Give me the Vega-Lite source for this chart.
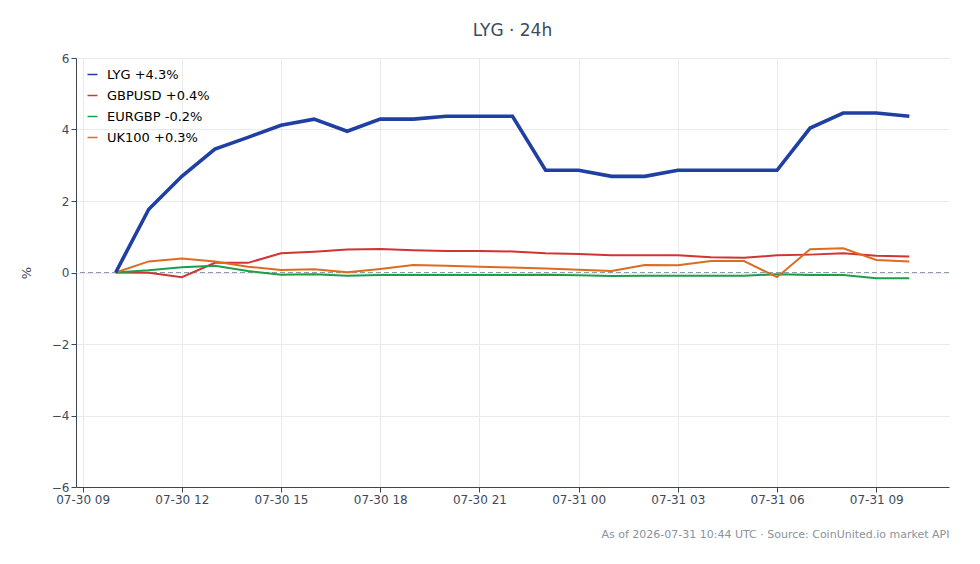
{
  "width": 980,
  "height": 564,
  "autosize": {"type": "fit", "contains": "padding"},
  "padding": {"left": 20, "top": 22, "right": 30, "bottom": 25},
  "config": {"font": "DejaVu Sans", "view": {"stroke": null}},
  "title": {"text": "LYG · 24h", "fontSize": 17, "fontWeight": "normal", "color": "#3d4a5c", "offset": 12},
  "data": {"values": [
      {"t": "2026-07-30T10:00:00Z", "s": "LYG +4.3%", "v": 0},
      {"t": "2026-07-30T11:00:00Z", "s": "LYG +4.3%", "v": 1.77},
      {"t": "2026-07-30T12:00:00Z", "s": "LYG +4.3%", "v": 2.69},
      {"t": "2026-07-30T13:00:00Z", "s": "LYG +4.3%", "v": 3.45},
      {"t": "2026-07-30T14:00:00Z", "s": "LYG +4.3%", "v": 3.78},
      {"t": "2026-07-30T15:00:00Z", "s": "LYG +4.3%", "v": 4.12},
      {"t": "2026-07-30T16:00:00Z", "s": "LYG +4.3%", "v": 4.29},
      {"t": "2026-07-30T17:00:00Z", "s": "LYG +4.3%", "v": 3.95},
      {"t": "2026-07-30T18:00:00Z", "s": "LYG +4.3%", "v": 4.29},
      {"t": "2026-07-30T19:00:00Z", "s": "LYG +4.3%", "v": 4.29},
      {"t": "2026-07-30T20:00:00Z", "s": "LYG +4.3%", "v": 4.37},
      {"t": "2026-07-30T21:00:00Z", "s": "LYG +4.3%", "v": 4.37},
      {"t": "2026-07-30T22:00:00Z", "s": "LYG +4.3%", "v": 4.37},
      {"t": "2026-07-30T23:00:00Z", "s": "LYG +4.3%", "v": 2.86},
      {"t": "2026-07-31T00:00:00Z", "s": "LYG +4.3%", "v": 2.86},
      {"t": "2026-07-31T01:00:00Z", "s": "LYG +4.3%", "v": 2.69},
      {"t": "2026-07-31T02:00:00Z", "s": "LYG +4.3%", "v": 2.69},
      {"t": "2026-07-31T03:00:00Z", "s": "LYG +4.3%", "v": 2.86},
      {"t": "2026-07-31T04:00:00Z", "s": "LYG +4.3%", "v": 2.86},
      {"t": "2026-07-31T05:00:00Z", "s": "LYG +4.3%", "v": 2.86},
      {"t": "2026-07-31T06:00:00Z", "s": "LYG +4.3%", "v": 2.86},
      {"t": "2026-07-31T07:00:00Z", "s": "LYG +4.3%", "v": 4.04},
      {"t": "2026-07-31T08:00:00Z", "s": "LYG +4.3%", "v": 4.46},
      {"t": "2026-07-31T09:00:00Z", "s": "LYG +4.3%", "v": 4.46},
      {"t": "2026-07-31T10:00:00Z", "s": "LYG +4.3%", "v": 4.37},
      {"t": "2026-07-30T10:00:00Z", "s": "GBPUSD +0.4%", "v": 0},
      {"t": "2026-07-30T11:00:00Z", "s": "GBPUSD +0.4%", "v": -0.01},
      {"t": "2026-07-30T12:00:00Z", "s": "GBPUSD +0.4%", "v": -0.13},
      {"t": "2026-07-30T13:00:00Z", "s": "GBPUSD +0.4%", "v": 0.27},
      {"t": "2026-07-30T14:00:00Z", "s": "GBPUSD +0.4%", "v": 0.27},
      {"t": "2026-07-30T15:00:00Z", "s": "GBPUSD +0.4%", "v": 0.54},
      {"t": "2026-07-30T16:00:00Z", "s": "GBPUSD +0.4%", "v": 0.58},
      {"t": "2026-07-30T17:00:00Z", "s": "GBPUSD +0.4%", "v": 0.64},
      {"t": "2026-07-30T18:00:00Z", "s": "GBPUSD +0.4%", "v": 0.66},
      {"t": "2026-07-30T19:00:00Z", "s": "GBPUSD +0.4%", "v": 0.62},
      {"t": "2026-07-30T20:00:00Z", "s": "GBPUSD +0.4%", "v": 0.6},
      {"t": "2026-07-30T21:00:00Z", "s": "GBPUSD +0.4%", "v": 0.6},
      {"t": "2026-07-30T22:00:00Z", "s": "GBPUSD +0.4%", "v": 0.59},
      {"t": "2026-07-30T23:00:00Z", "s": "GBPUSD +0.4%", "v": 0.54},
      {"t": "2026-07-31T00:00:00Z", "s": "GBPUSD +0.4%", "v": 0.52},
      {"t": "2026-07-31T01:00:00Z", "s": "GBPUSD +0.4%", "v": 0.48},
      {"t": "2026-07-31T02:00:00Z", "s": "GBPUSD +0.4%", "v": 0.48},
      {"t": "2026-07-31T03:00:00Z", "s": "GBPUSD +0.4%", "v": 0.48},
      {"t": "2026-07-31T04:00:00Z", "s": "GBPUSD +0.4%", "v": 0.43},
      {"t": "2026-07-31T05:00:00Z", "s": "GBPUSD +0.4%", "v": 0.41},
      {"t": "2026-07-31T06:00:00Z", "s": "GBPUSD +0.4%", "v": 0.48},
      {"t": "2026-07-31T07:00:00Z", "s": "GBPUSD +0.4%", "v": 0.5},
      {"t": "2026-07-31T08:00:00Z", "s": "GBPUSD +0.4%", "v": 0.54},
      {"t": "2026-07-31T09:00:00Z", "s": "GBPUSD +0.4%", "v": 0.47},
      {"t": "2026-07-31T10:00:00Z", "s": "GBPUSD +0.4%", "v": 0.45},
      {"t": "2026-07-30T10:00:00Z", "s": "EURGBP -0.2%", "v": 0},
      {"t": "2026-07-30T11:00:00Z", "s": "EURGBP -0.2%", "v": 0.06},
      {"t": "2026-07-30T12:00:00Z", "s": "EURGBP -0.2%", "v": 0.15},
      {"t": "2026-07-30T13:00:00Z", "s": "EURGBP -0.2%", "v": 0.19},
      {"t": "2026-07-30T14:00:00Z", "s": "EURGBP -0.2%", "v": 0.04},
      {"t": "2026-07-30T15:00:00Z", "s": "EURGBP -0.2%", "v": -0.06},
      {"t": "2026-07-30T16:00:00Z", "s": "EURGBP -0.2%", "v": -0.05},
      {"t": "2026-07-30T17:00:00Z", "s": "EURGBP -0.2%", "v": -0.09},
      {"t": "2026-07-30T18:00:00Z", "s": "EURGBP -0.2%", "v": -0.07},
      {"t": "2026-07-30T19:00:00Z", "s": "EURGBP -0.2%", "v": -0.07},
      {"t": "2026-07-30T20:00:00Z", "s": "EURGBP -0.2%", "v": -0.07},
      {"t": "2026-07-30T21:00:00Z", "s": "EURGBP -0.2%", "v": -0.07},
      {"t": "2026-07-30T22:00:00Z", "s": "EURGBP -0.2%", "v": -0.07},
      {"t": "2026-07-30T23:00:00Z", "s": "EURGBP -0.2%", "v": -0.06},
      {"t": "2026-07-31T00:00:00Z", "s": "EURGBP -0.2%", "v": -0.08},
      {"t": "2026-07-31T01:00:00Z", "s": "EURGBP -0.2%", "v": -0.1},
      {"t": "2026-07-31T02:00:00Z", "s": "EURGBP -0.2%", "v": -0.09},
      {"t": "2026-07-31T03:00:00Z", "s": "EURGBP -0.2%", "v": -0.09},
      {"t": "2026-07-31T04:00:00Z", "s": "EURGBP -0.2%", "v": -0.09},
      {"t": "2026-07-31T05:00:00Z", "s": "EURGBP -0.2%", "v": -0.09},
      {"t": "2026-07-31T06:00:00Z", "s": "EURGBP -0.2%", "v": -0.05},
      {"t": "2026-07-31T07:00:00Z", "s": "EURGBP -0.2%", "v": -0.07},
      {"t": "2026-07-31T08:00:00Z", "s": "EURGBP -0.2%", "v": -0.07},
      {"t": "2026-07-31T09:00:00Z", "s": "EURGBP -0.2%", "v": -0.16},
      {"t": "2026-07-31T10:00:00Z", "s": "EURGBP -0.2%", "v": -0.16},
      {"t": "2026-07-30T10:00:00Z", "s": "UK100 +0.3%", "v": 0},
      {"t": "2026-07-30T11:00:00Z", "s": "UK100 +0.3%", "v": 0.31},
      {"t": "2026-07-30T12:00:00Z", "s": "UK100 +0.3%", "v": 0.39},
      {"t": "2026-07-30T13:00:00Z", "s": "UK100 +0.3%", "v": 0.31},
      {"t": "2026-07-30T14:00:00Z", "s": "UK100 +0.3%", "v": 0.16},
      {"t": "2026-07-30T15:00:00Z", "s": "UK100 +0.3%", "v": 0.07},
      {"t": "2026-07-30T16:00:00Z", "s": "UK100 +0.3%", "v": 0.09},
      {"t": "2026-07-30T17:00:00Z", "s": "UK100 +0.3%", "v": 0.01},
      {"t": "2026-07-30T18:00:00Z", "s": "UK100 +0.3%", "v": 0.1},
      {"t": "2026-07-30T19:00:00Z", "s": "UK100 +0.3%", "v": 0.21},
      {"t": "2026-07-30T20:00:00Z", "s": "UK100 +0.3%", "v": 0.19},
      {"t": "2026-07-30T21:00:00Z", "s": "UK100 +0.3%", "v": 0.16},
      {"t": "2026-07-30T22:00:00Z", "s": "UK100 +0.3%", "v": 0.14},
      {"t": "2026-07-30T23:00:00Z", "s": "UK100 +0.3%", "v": 0.11},
      {"t": "2026-07-31T00:00:00Z", "s": "UK100 +0.3%", "v": 0.08},
      {"t": "2026-07-31T01:00:00Z", "s": "UK100 +0.3%", "v": 0.04},
      {"t": "2026-07-31T02:00:00Z", "s": "UK100 +0.3%", "v": 0.21},
      {"t": "2026-07-31T03:00:00Z", "s": "UK100 +0.3%", "v": 0.2},
      {"t": "2026-07-31T04:00:00Z", "s": "UK100 +0.3%", "v": 0.32},
      {"t": "2026-07-31T05:00:00Z", "s": "UK100 +0.3%", "v": 0.32},
      {"t": "2026-07-31T06:00:00Z", "s": "UK100 +0.3%", "v": -0.13},
      {"t": "2026-07-31T07:00:00Z", "s": "UK100 +0.3%", "v": 0.65},
      {"t": "2026-07-31T08:00:00Z", "s": "UK100 +0.3%", "v": 0.68},
      {"t": "2026-07-31T09:00:00Z", "s": "UK100 +0.3%", "v": 0.35},
      {"t": "2026-07-31T10:00:00Z", "s": "UK100 +0.3%", "v": 0.31}
  ]},
  "encoding": {
    "x": {
      "field": "t",
      "type": "temporal",
      "scale": {"domain": [1785401280000, 1785496320000]},
      "axis": {
        "format": "%m-%d %H",
        "tickCount": 9,
        "labelFontSize": 12,
        "labelColor": "#3d4a5c",
        "domainColor": "#3d4656",
        "tickColor": "#3d4656",
        "gridColor": "#e8eaee",
        "title": "As of 2026-07-31 10:44 UTC · Source: CoinUnited.io market API",
        "titleFontSize": 11,
        "titleFontWeight": "normal",
        "titleColor": "#8a929c",
        "titleAnchor": "end",
        "titlePadding": 23
      }
    },
    "y": {
      "field": "v",
      "type": "quantitative",
      "scale": {"domain": [-6, 6]},
      "axis": {
        "values": [-6, -4, -2, 0, 2, 4, 6],
        "labelFontSize": 12,
        "labelColor": "#3d4a5c",
        "domainColor": "#3d4656",
        "tickColor": "#3d4656",
        "gridColor": "#e8eaee",
        "title": "%",
        "titleFontSize": 13,
        "titleFontWeight": "normal",
        "titleColor": "#3d4a5c",
        "titlePadding": 18
      }
    },
    "color": {
      "field": "s",
      "type": "nominal",
      "scale": {
        "domain": ["LYG +4.3%", "GBPUSD +0.4%", "EURGBP -0.2%", "UK100 +0.3%"],
        "range": ["#1f3fa3", "#d03434", "#1f9e4a", "#dd6b20"]
      },
      "legend": {"title": null, "orient": "top-left", "offset": 10, "symbolType": "stroke", "labelFontSize": 13, "rowPadding": 7, "labelOffset": 8}
    }
  },
  "layer": [
    {
      "mark": {"type": "rule", "color": "#8f9aab", "strokeDash": [5, 3], "strokeWidth": 1},
      "encoding": {"y": {"datum": 0}, "x": null, "color": null}
    },
    {
      "transform": [{"filter": "datum.s != 'LYG +4.3%'"}],
      "mark": {"type": "line", "strokeWidth": 2}
    },
    {
      "transform": [{"filter": "datum.s == 'LYG +4.3%'"}],
      "mark": {"type": "line", "strokeWidth": 3.6}
    }
  ]
}
